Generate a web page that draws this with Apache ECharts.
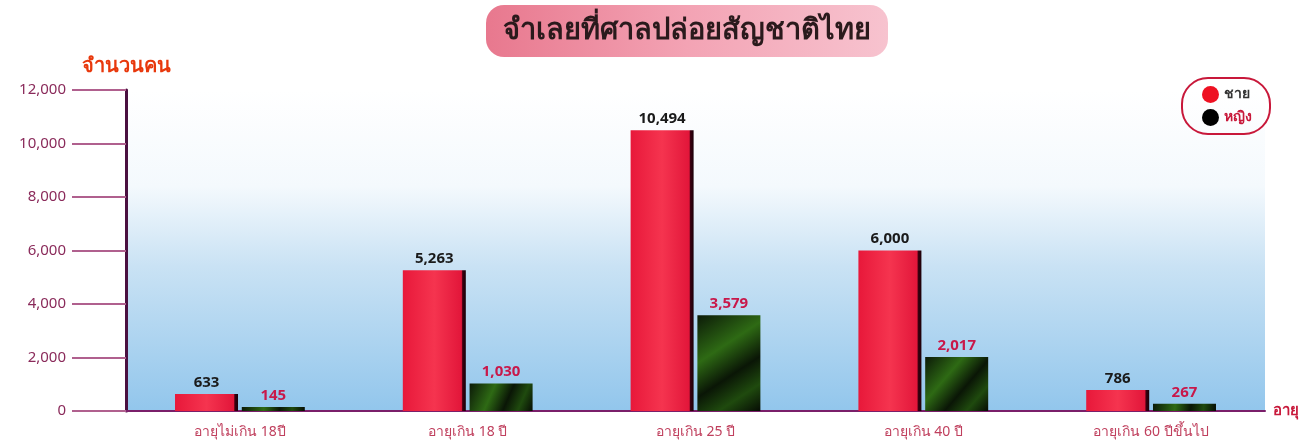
<!DOCTYPE html>
<html><head><meta charset="utf-8">
<script src="https://cdn.jsdelivr.net/npm/echarts@6/dist/echarts.min.js"></script>
<style>html,body{margin:0;padding:0;background:#fff}#c{width:1302px;height:445px}</style>
</head><body><div id="c"></div>
<script>
const categories = ['อายุไม่เกิน 18ปี', 'อายุเกิน 18 ปี', 'อายุเกิน 25 ปี', 'อายุเกิน 40 ปี', 'อายุเกิน 60 ปีขึ้นไป'];
const male = [633, 5263, 10494, 6000, 786];
const female = [145, 1030, 3579, 2017, 267];
const yTicks = [0, 2000, 4000, 6000, 8000, 10000, 12000];

const FONT = '"Noto Sans", "DejaVu Sans", sans-serif';
const chart = echarts.init(document.getElementById('c'));
const redFill = new echarts.graphic.LinearGradient(0, 0, 1, 0, [
  {offset: 0, color: '#e8183a'}, {offset: 0.5, color: '#f5344f'},
  {offset: 0.93, color: '#e2163a'}, {offset: 0.95, color: '#3a0010'}, {offset: 1, color: '#1a0008'}]);
const greenFill = new echarts.graphic.LinearGradient(0, 0, 1, 1, [
  {offset: 0, color: '#0c1a08'}, {offset: 0.35, color: '#2e6a14'},
  {offset: 0.6, color: '#0a1606'}, {offset: 0.8, color: '#1f4a0e'}, {offset: 1, color: '#060c04'}]);
chart.setOption({
  animation: false,
  textStyle: {fontFamily: FONT},
  title: {
    text: 'จำเลยที่ศาลปล่อยสัญชาติไทย', left: 486, top: 5,
    padding: [10, 17, 10, 17], borderRadius: 18,
    backgroundColor: new echarts.graphic.LinearGradient(0, 0, 1, 0, [
      {offset: 0, color: '#e8788e'}, {offset: 0.5, color: '#f3a3b4'}, {offset: 1, color: '#f7c3cf'}]),
    textStyle: {fontSize: 29, fontWeight: 'bold', color: '#2a1a1c', fontFamily: FONT, lineHeight: 32}
  },
  legend: {
    right: 32, top: 78, orient: 'vertical', itemGap: 6, icon: 'circle', itemWidth: 17, itemHeight: 17,
    padding: [8, 18, 8, 20], borderColor: '#c8183a', borderWidth: 2, borderRadius: 26,
    data: [
      {name: 'ชาย', itemStyle: {color: '#ee1122'}, textStyle: {color: '#333', fontWeight: 'bold', fontSize: 14}},
      {name: 'หญิง', itemStyle: {color: '#000'}, textStyle: {color: '#c8183a', fontWeight: 'bold', fontSize: 14}}
    ]
  },
  grid: {left: 126, right: 32, top: 90, bottom: 34, show: true, borderWidth: 0,
    backgroundColor: new echarts.graphic.LinearGradient(0, 0, 0, 1, [
      {offset: 0, color: '#ffffff'}, {offset: 0.3, color: '#f4f9fd'},
      {offset: 0.55, color: '#c9e2f4'}, {offset: 1, color: '#92c6ec'}])},
  xAxis: {
    type: 'category', data: categories,
    name: 'อายุ', nameLocation: 'end', nameGap: 8,
    nameTextStyle: {color: '#c8183a', fontWeight: 'bold', fontSize: 15, verticalAlign: 'middle'},
    axisLine: {lineStyle: {color: '#7a1f6a', width: 2}},
    axisTick: {show: false},
    axisLabel: {color: '#c0405e', fontSize: 14, margin: 14}
  },
  yAxis: {
    type: 'value', min: 0, max: 12000, interval: 2000,
    name: 'จำนวนคน', nameLocation: 'end', nameGap: 14,
    nameTextStyle: {color: '#e8380c', fontWeight: 'bold', fontSize: 20, align: 'center'},
    axisLine: {show: true, lineStyle: {color: '#4a1040', width: 3}},
    axisTick: {show: true, inside: false, length: 54, lineStyle: {color: '#b0608e', width: 2}},
    splitLine: {show: false},
    axisLabel: {color: '#8a2a5a', fontSize: 15, margin: 60,
      formatter: v => yTicks.includes(v) ? v.toLocaleString('en-US') : ''}
  },
  series: [
    {name: 'ชาย', type: 'bar', data: male, barWidth: 63, barGap: '6%',
      itemStyle: {color: redFill},
      label: {show: true, position: 'top', color: '#1a1a1a', fontWeight: 'bold', fontSize: 15, distance: 4,
        formatter: p => p.value.toLocaleString('en-US')}},
    {name: 'หญิง', type: 'bar', data: female, barWidth: 63,
      itemStyle: {color: greenFill},
      label: {show: true, position: 'top', color: '#c8184a', fontWeight: 'bold', fontSize: 15, distance: 4,
        formatter: p => p.value.toLocaleString('en-US')}}
  ]
});
</script></body></html>
